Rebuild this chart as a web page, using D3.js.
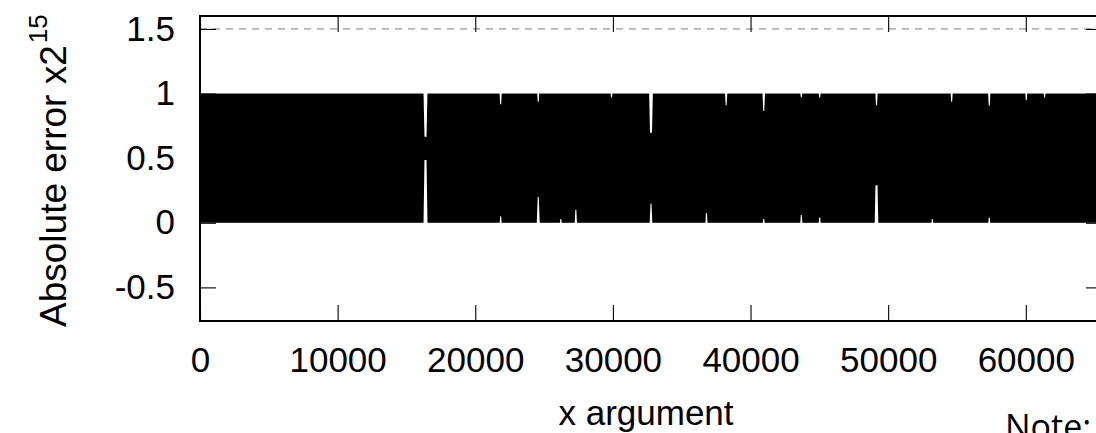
<!DOCTYPE html>
<html><head><meta charset="utf-8">
<script src="https://cdn.jsdelivr.net/npm/d3@7"></script>
<style>body{margin:0;background:#fff;overflow:hidden} svg{display:block}</style>
</head><body><svg id="c" width="1096" height="433"></svg>
<script>
// ---- data ----
const xTicks = [0, 10000, 20000, 30000, 40000, 50000, 60000];
const yTicks = [-0.5, 0, 0.5, 1, 1.5];
const yTickLabels = ["-0.5", "0", "0.5", "1", "1.5"];
const xDomain = [0, 65536];
const yDomain = [-0.76, 1.6];
const bandLow = 0;       // smallest error reached almost everywhere
const bandHigh = 1;      // largest error reached almost everywhere
const limitLine = 1.5;   // dashed reference level
// places where the error trace leaves a hole: x argument and the value range not reached
const gapX    = [16384, 16384, 21845, 21845, 24576, 24576, 26216, 27307, 29898, 32768, 32768, 36797, 38229, 40960, 40960, 43691, 43691, 45024, 45024, 49152, 49152, 53210, 54613, 57344, 57344, 60035, 61364];
const gapFrom = [0.666, 0,     0.917, 0,     0.937, 0,     0,     0,     0.97,  0.697, 0,     0,     0.91,  0.865, 0,     0.97,  0,     0.97,  0,     0.91,  0,     0,     0.937, 0.906, 0,     0.95,  0.97];
const gapTo   = [1,     0.485, 1,     0.05,  1,     0.2,   0.03,  0.1,   1,     1,     0.15,  0.075, 1,     1,     0.03,  1,     0.06,  1,     0.04,  1,     0.29,  0.03,  1,     1,     0.04,  1,     1];
const xLabel = "x argument";
const yLabelMain = "Absolute error x2";
const yLabelSup = "15";
const noteText = "Note:";

// ---- layout ----
const L = 200, R = 1102, T = 16, B = 321;
const svg = d3.select("#c");
const xs = d3.scaleLinear().domain(xDomain).range([L, R]);
const ys = d3.scaleLinear().domain(yDomain).range([B, T]);
const font = "'Liberation Sans', Arial, Helvetica, sans-serif";

// dashed limit line
svg.append("line")
  .attr("x1", xs(xDomain[0])).attr("x2", xs(xDomain[1]))
  .attr("y1", ys(limitLine)).attr("y2", ys(limitLine))
  .attr("stroke", "#b4b4b4").attr("stroke-width", 1.8)
  .attr("stroke-dasharray", "7,6");

// axes with inward ticks
const ax = svg.append("g").attr("font-family", font).attr("font-size", 35);
ax.append("g").attr("transform", `translate(0,${B})`)
  .call(d3.axisBottom(xs).tickValues(xTicks).tickFormat(d3.format("d")).tickSize(-16).tickPadding(26));
ax.append("g").attr("transform", `translate(0,${T})`)
  .call(d3.axisTop(xs).tickValues(xTicks).tickFormat("").tickSize(-16));
ax.append("g").attr("transform", `translate(${L},0)`)
  .call(d3.axisLeft(ys).tickValues(yTicks).tickFormat((d, i) => yTickLabels[i]).tickSize(-16).tickPadding(25));
ax.append("g").attr("transform", `translate(${R},0)`)
  .call(d3.axisRight(ys).tickValues(yTicks).tickFormat("").tickSize(-16));
ax.selectAll(".domain").remove();
ax.selectAll(".tick line").attr("stroke", "#000").attr("stroke-width", 1.1);
ax.selectAll(".tick text").attr("fill", "#000").attr("font-family", font).attr("font-size", 35);

// dense error trace: filled band
svg.append("rect")
  .attr("x", xs(xDomain[0])).attr("width", xs(xDomain[1]) - xs(xDomain[0]))
  .attr("y", ys(bandHigh)).attr("height", ys(bandLow) - ys(bandHigh))
  .attr("fill", "#000");

// holes in the trace (tapered toward the inside of the band)
const gaps = gapX.map((g, i) => ({gx: g, from: gapFrom[i], to: gapTo[i]}));
svg.append("g").selectAll("path").data(gaps).join("path")
  .attr("fill", "#fff")
  .attr("d", d => {
    const cx = xs(d.gx);
    const depth = d.to - d.from;
    const edgeW = Math.min(1.6 + depth * 7, 4);
    const tipW = depth > 0.25 ? 2 : 1;
    const atTop = d.to >= bandHigh;
    const yEdge = atTop ? ys(d.to) - 0.5 : ys(d.from) + 0.5;
    const yTip = atTop ? ys(d.from) : ys(d.to);
    return `M${cx - edgeW / 2},${yEdge}L${cx + edgeW / 2},${yEdge}L${cx + tipW / 2},${yTip}L${cx - tipW / 2},${yTip}Z`;
  });

// border (left, top, bottom; right border lies just outside the view)
svg.append("path")
  .attr("d", `M${R},${T}H${L}V${B}H${R}`)
  .attr("fill", "none").attr("stroke", "#000").attr("stroke-width", 2);

// labels
svg.append("text").attr("x", 646).attr("y", 425)
  .attr("text-anchor", "middle").attr("font-family", font).attr("font-size", 35)
  .text(xLabel);
const yl = svg.append("text")
  .attr("transform", "translate(66,327) rotate(-90)")
  .attr("text-anchor", "start").attr("font-family", font).attr("font-size", 37);
yl.append("tspan").text(yLabelMain);
yl.append("tspan").attr("font-size", 26).attr("dy", -19).attr("dx", 2).text(yLabelSup);

svg.append("text").attr("x", 1005).attr("y", 439)
  .attr("font-family", "'Open Sans', sans-serif").attr("font-size", 34)
  .text(noteText);
</script>
</body></html>
